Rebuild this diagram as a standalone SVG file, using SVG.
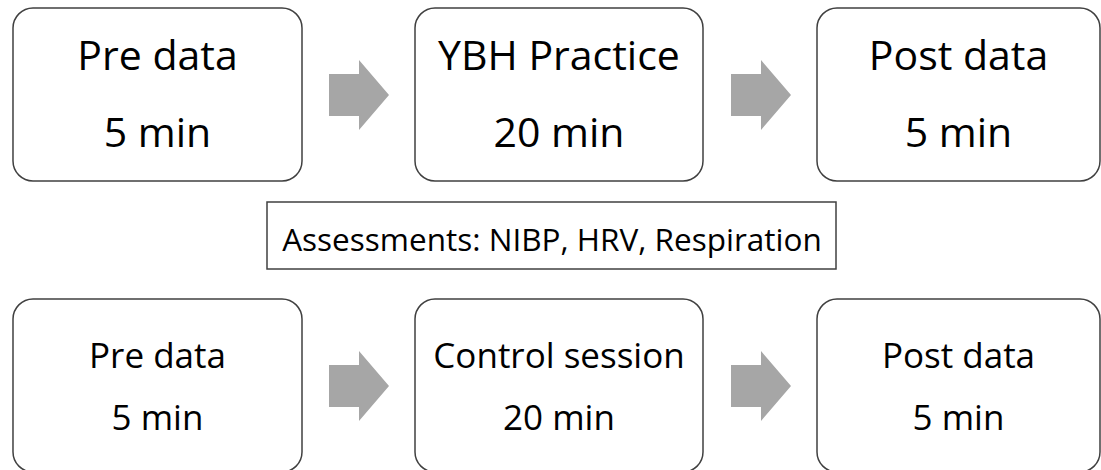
<svg xmlns="http://www.w3.org/2000/svg" width="1101" height="470" viewBox="0 0 1101 470">
<defs>
<style>
.box{fill:#ffffff;stroke:#404040;stroke-width:1.5}
.arr{fill:#a6a6a6}
text{font-family:"Open Sans","Liberation Sans",sans-serif;fill:#000;text-anchor:middle}
.big{font-size:41px}
.small{font-size:35px}
.mid{font-size:31.5px}
</style>
<path id="arrowShape" d="M0,-21 L30,-21 L30,-35 L60,0 L30,35 L30,21 L0,21 Z"/>
</defs>
<rect width="1101" height="470" fill="#ffffff"/>
<g id="connectors">
<use href="#arrowShape" class="arr" x="329" y="95"/>
<use href="#arrowShape" class="arr" x="731" y="95"/>
<use href="#arrowShape" class="arr" x="329" y="386"/>
<use href="#arrowShape" class="arr" x="731" y="386"/>
</g>
<g id="top-pre">
<rect class="box" x="13" y="8" width="289" height="173" rx="20"/>
<text class="big" x="157.5" y="70">Pre data</text>
<text class="big" x="157.5" y="147">5 min</text>
</g>
<g id="top-ybh">
<rect class="box" x="415" y="8" width="288" height="173" rx="20"/>
<text class="big" x="559" y="70">YBH Practice</text>
<text class="big" x="559" y="147">20 min</text>
</g>
<g id="top-post">
<rect class="box" x="817" y="8" width="283" height="173" rx="20"/>
<text class="big" x="958.5" y="70">Post data</text>
<text class="big" x="958.5" y="147">5 min</text>
</g>
<g id="assessments">
<rect x="267" y="202" width="569" height="67" fill="#ffffff" stroke="#404040" stroke-width="1.5"/>
<text class="mid" x="552" y="251">Assessments: NIBP, HRV, Respiration</text>
</g>
<g id="bottom-pre">
<rect class="box" x="13" y="299" width="289" height="173" rx="20"/>
<text class="small" x="157.5" y="368">Pre data</text>
<text class="small" x="157.5" y="430">5 min</text>
</g>
<g id="bottom-control">
<rect class="box" x="415" y="299" width="288" height="173" rx="20"/>
<text class="small" x="559" y="368">Control session</text>
<text class="small" x="559" y="430">20 min</text>
</g>
<g id="bottom-post">
<rect class="box" x="817" y="299" width="283" height="173" rx="20"/>
<text class="small" x="958.5" y="368">Post data</text>
<text class="small" x="958.5" y="430">5 min</text>
</g>
</svg>
